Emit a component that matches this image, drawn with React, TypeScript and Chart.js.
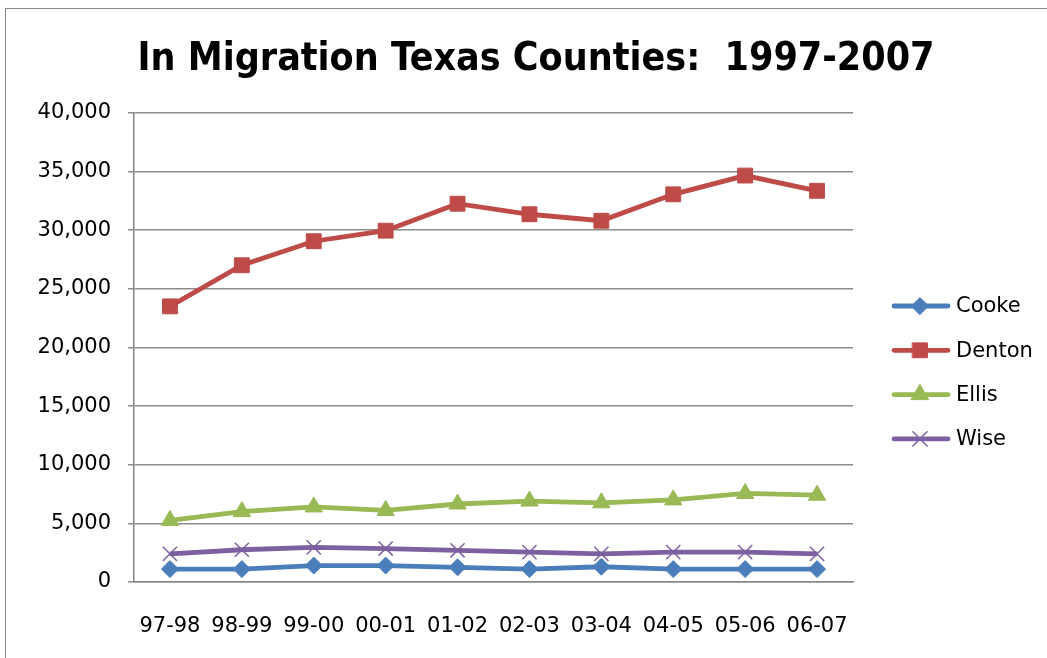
import React, { useEffect, useRef } from 'react';
import { Chart, registerables } from 'chart.js';
import { drawPoint } from 'chart.js/helpers';

Chart.register(...registerables);

const titleText = 'In Migration Texas Counties:  1997-2007';
const categories = ['97-98', '98-99', '99-00', '00-01', '01-02', '02-03', '03-04', '04-05', '05-06', '06-07'];
const cooke = [1100, 1100, 1400, 1400, 1250, 1100, 1300, 1100, 1100, 1100];
const denton = [23500, 27000, 29050, 29950, 32250, 31350, 30800, 33050, 34650, 33350];
const ellis = [5250, 6000, 6400, 6100, 6650, 6900, 6750, 7000, 7550, 7400];
const wise = [2400, 2750, 2950, 2850, 2700, 2550, 2400, 2550, 2550, 2400];
const seriesNames = ['Cooke', 'Denton', 'Ellis', 'Wise'];
const yMin = 0;
const yMax = 40000;
const yStep = 5000;

const FONT = '"DejaVu Sans", sans-serif';

const sideLegend = {
  id: 'sideLegend',
  afterDraw(chart: any) {
    const ctx = chart.ctx;
    const x0 = 894;
    const x1 = 948;
    const xm = 920;
    const yTop = 306;
    const gap = 44.3;
    chart.data.datasets.forEach((ds: any, i: number) => {
      const y = yTop + i * gap;
      ctx.save();
      ctx.strokeStyle = ds.borderColor;
      ctx.lineWidth = ds.borderWidth;
      ctx.lineCap = 'round';
      ctx.beginPath();
      ctx.moveTo(x0, y);
      ctx.lineTo(x1, y);
      ctx.stroke();
      ctx.fillStyle = ds.pointBackgroundColor;
      ctx.strokeStyle = ds.pointBorderColor;
      ctx.lineWidth = ds.pointBorderWidth;
      drawPoint(ctx, { pointStyle: ds.pointStyle, radius: ds.pointRadius, rotation: 0, borderWidth: ds.pointBorderWidth } as any, xm, y);
      ctx.fillStyle = '#000';
      ctx.font = '21px ' + FONT;
      ctx.textBaseline = 'middle';
      ctx.textAlign = 'left';
      ctx.fillText(ds.label, 956, y + 1);
      ctx.restore();
    });
  },
};

function App() {
  const ref = useRef<HTMLCanvasElement | null>(null);
  useEffect(() => {
    if (!ref.current) return;
    const mk = (label: string, data: number[], color: string, style: string, radius: number, bw: number) => ({
      label,
      data,
      yAxisID: 'y',
      borderColor: color,
      backgroundColor: color,
      borderWidth: 4.8,
      pointStyle: style,
      pointRadius: radius,
      pointHoverRadius: radius,
      pointBackgroundColor: color,
      pointBorderColor: color,
      pointBorderWidth: bw,
      tension: 0,
      fill: false,
    });
    const chart = new Chart(ref.current, {
      type: 'line',
      data: {
        labels: categories,
        datasets: [
          mk(seriesNames[0], cooke, '#4A7EBB', 'rectRot', 8.5, 1),
          mk(seriesNames[1], denton, '#BE4B48', 'rect', 10.5, 1),
          mk(seriesNames[2], ellis, '#98B954', 'triangle', 10, 1),
          mk(seriesNames[3], wise, '#7D60A0', 'crossRot', 10, 1.5),
        ],
      },
      options: {
        responsive: false,
        animation: false,
        layout: { padding: { left: 25, right: 0, top: 0, bottom: 0 } },
        plugins: {
          legend: { display: false },
          tooltip: { enabled: false },
          title: {
            display: true,
            text: titleText,
            color: '#000',
            font: { family: '"Liberation Sans Narrow", "DejaVu Sans Condensed", Lato, sans-serif', size: 39, weight: 'bold' },
            padding: { top: 36, bottom: 30 },
          },
        },
        scales: {
          x: {
            offset: true,
            grid: { display: false, drawTicks: false },
            border: { display: true, color: '#888', width: 1.5 },
            ticks: { color: '#000', font: { family: FONT, size: 21 }, padding: 32, maxRotation: 0, autoSkip: false },
            afterFit: (s: any) => { s.height = 76; },
          },
          y: {
            min: yMin,
            max: yMax,
            grid: { color: '#8c8c8c', lineWidth: 1.5, tickLength: 6, drawTicks: true },
            border: { display: true, color: '#888', width: 1.5 },
            ticks: {
              stepSize: yStep,
              color: '#000',
              font: { family: FONT, size: 21 },
              padding: 17,
              callback: (v: any) => Number(v).toLocaleString('en-US'),
            },
            afterFit: (s: any) => { s.width = 109; },
          },
          yRight: {
            type: 'linear',
            position: 'right',
            min: yMin,
            max: yMax,
            grid: { display: false, drawTicks: false },
            border: { display: false },
            ticks: { display: false },
            afterFit: (s: any) => { s.width = 194; },
          },
        },
      },
      plugins: [sideLegend],
    });
    return () => chart.destroy();
  }, []);

  return (
    <div style={{ position: 'fixed', left: 0, top: 0, width: 1047, height: 658, overflow: 'hidden', background: '#fff' }}>
      <div style={{ position: 'absolute', left: 5, top: 8, width: 1200, height: 800, border: '1.5px solid #8a8a8a' }} />
      <canvas ref={ref} width={1047} height={658} style={{ position: 'absolute', left: 0, top: 0, width: 1047, height: 658 }} />
    </div>
  );
}

export default App;
